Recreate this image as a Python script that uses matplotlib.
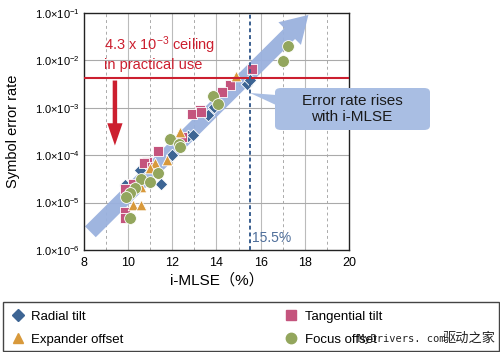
import matplotlib
matplotlib.use("Agg")
import matplotlib.pyplot as plt
from matplotlib.lines import Line2D
from matplotlib.patches import FancyBboxPatch, Polygon, Rectangle

plt.rcParams['font.family'] = ['Liberation Sans', 'Noto Sans CJK SC', 'DejaVu Sans']
plt.rcParams['mathtext.fontset'] = 'custom'
plt.rcParams['mathtext.rm'] = 'Liberation Sans'
plt.rcParams['mathtext.it'] = 'Liberation Sans'

# data
radial_x = [9.85, 10.55, 11.5, 12.0, 12.7, 12.95, 13.6, 13.9, 15.4, 15.5]
radial_y = [2.3e-5, 4.9e-5, 2.5e-5, 1.0e-4, 2.5e-4, 2.7e-4, 7.1e-4, 1.05e-3, 3.2e-3, 3.9e-3]

tang_x = [15.6, 14.6, 14.25, 13.25, 12.9, 13.3, 12.45, 11.35, 10.85, 10.7, 11.1, 10.2, 9.85, 9.85, 9.85]
tang_y = [6.6e-3, 3.0e-3, 2.2e-3, 8.9e-4, 7.4e-4, 8.1e-4, 2.4e-4, 1.2e-4, 7.2e-5, 6.8e-5,
          5.6e-5, 2.5e-5, 1.9e-5, 6.3e-6, 4.7e-6]

exp_x = [14.9, 12.35, 11.75, 11.2, 11.0, 10.6, 10.2, 10.6]
exp_y = [4.7e-3, 3.1e-4, 7.9e-5, 6.8e-5, 5.4e-5, 2.1e-5, 8.9e-6, 8.9e-6]

focus_x = [17.24, 17.0, 13.84, 14.07, 11.9, 12.3, 12.35, 11.35, 10.6, 11.0, 10.3, 10.1, 9.9, 10.1]
focus_y = [2.0e-2, 9.8e-3, 1.8e-3, 1.2e-3, 2.2e-4, 1.7e-4, 1.5e-4, 4.2e-5, 3.2e-5, 2.7e-5,
           2.0e-5, 1.6e-5, 1.3e-5, 4.7e-6]

ceiling = 4.3e-3
mlse_limit = 15.5
yticks = [1e-6, 1e-5, 1e-4, 1e-3, 1e-2, 1e-1]
ytick_labels = [r'$1.0{\times}10^{-6}$', r'$1.0{\times}10^{-5}$', r'$1.0{\times}10^{-4}$',
                r'$1.0{\times}10^{-3}$', r'$1.0{\times}10^{-2}$', r'$1.0{\times}10^{-1}$']

c_radial = '#3D6594'
c_tang = '#C4547D'
c_exp = '#D8993B'
c_focus = '#93A65D'
c_red = '#CC1F2F'
c_arrow = '#9AB1DE'

W, H = 500, 352
def fx(px):
    return px / W
def fy(py):
    return 1 - py / H

fig = plt.figure(figsize=(5, 3.52), dpi=100)
ax = fig.add_axes([fx(84), fy(250), fx(349) - fx(84), fy(13) - fy(250)])
ax.set_xlim(8, 20)
ax.set_yscale('log')
ax.set_ylim(1e-6, 1e-1)

# grid
for v in range(9, 20, 2):
    ax.axvline(v, color='#AAAAAA', lw=0.7, ls=(0, (3, 3)), zorder=0)
for v in range(10, 20, 2):
    ax.axvline(v, color='#BBBBBB', lw=0.8, zorder=0)
for v in yticks[1:-1]:
    ax.axhline(v, color='#AAAAAA', lw=0.8, zorder=0)

# big trend arrow
ax.annotate('', xy=(18.25, 0.1), xytext=(8.2, 2.2e-6),
            arrowprops=dict(arrowstyle='simple,head_length=0.95,head_width=1.15,tail_width=0.55',
                            mutation_scale=20, color=c_arrow, lw=0, alpha=0.95),
            annotation_clip=False, zorder=2)

ms = 58
ax.scatter(radial_x, radial_y, marker='D', s=ms * 0.7, color=c_radial, edgecolor='white', lw=0.6, zorder=3)
ax.scatter(tang_x, tang_y, marker='s', s=ms, color=c_tang, edgecolor='white', lw=0.6, zorder=3)
ax.scatter(exp_x, exp_y, marker='^', s=ms, color=c_exp, edgecolor='white', lw=0.6, zorder=3)
ax.scatter(focus_x, focus_y, marker='o', s=ms * 1.25, color=c_focus, edgecolor='white', lw=0.6, zorder=4)

# ceiling line and arrow
ax.axhline(ceiling, color=c_red, lw=1.5, zorder=5)
ax.annotate('', xy=(9.4, 1.4e-4), xytext=(9.4, ceiling),
            arrowprops=dict(arrowstyle='simple,head_length=0.8,head_width=0.55,tail_width=0.16',
                            mutation_scale=20, color=c_red, lw=0), zorder=5)
ax.text(8.9, 1.4e-2, '4.3 x 10$^{-3}$ ceiling\nin practical use', color=c_red,
        fontsize=10.5, va='center', ha='left', linespacing=1.15, zorder=6)

# i-MLSE limit
ax.axvline(mlse_limit, color='#3A5F8F', lw=1.4, ls=(0, (2, 1.5)), zorder=5)
ax.text(mlse_limit + 0.1, 1.75e-6, '15.5%', color='#4E6E9A', fontsize=10, va='center', ha='left')

ax.set_yticks(yticks)
ax.set_yticklabels(ytick_labels)
ax.minorticks_off()
ax.set_xticks(range(8, 21, 2))
ax.tick_params(axis='y', length=0, labelsize=8, pad=3)
ax.tick_params(axis='x', length=0, labelsize=9, pad=5)
ax.set_xlabel('i-MLSE（%）', fontsize=11, labelpad=3)
ax.set_ylabel('Symbol error rate', fontsize=10.5)
ax.yaxis.set_label_coords(-0.24, 0.5)
for s in ax.spines.values():
    s.set_color('#222222')
    s.set_linewidth(1.0)

# callout box
box = FancyBboxPatch((fx(275), fy(130)), fx(430) - fx(275), fy(88) - fy(130),
                     boxstyle='round,pad=0,rounding_size=0.012', transform=fig.transFigure,
                     fc='#A9BEE3', ec='none', zorder=6)
fig.patches.append(box)
tail = Polygon([(fx(250), fy(93)), (fx(276), fy(95)), (fx(276), fy(105))], closed=True,
               transform=fig.transFigure, fc='#A9BEE3', ec='none', zorder=6)
fig.patches.append(tail)
fig.text(fx(352), fy(109), 'Error rate rises\nwith i-MLSE', ha='center', va='center',
         fontsize=11, color='#1A1A1A', linespacing=1.1, zorder=7)

# legend
fig.patches.append(Rectangle((fx(3), fy(351)), fx(499) - fx(3), fy(302) - fy(351),
                             transform=fig.transFigure, fill=False, ec='#444444', lw=1.0))
handles = [
    Line2D([], [], marker='D', ls='none', color=c_radial, markersize=6, label='Radial tilt'),
    Line2D([], [], marker='^', ls='none', color=c_exp, markersize=7, label='Expander offset'),
    Line2D([], [], marker='s', ls='none', color=c_tang, markersize=7, label='Tangential tilt'),
    Line2D([], [], marker='o', ls='none', color=c_focus, markersize=7.5, label='Focus offset'),
]
fig.legend(handles=handles, ncol=2, loc='upper left', bbox_to_anchor=(fx(9), fy(308)),
           frameon=False, fontsize=9.5, handlelength=1.0, handletextpad=0.5,
           columnspacing=12.2, labelspacing=0.8, borderaxespad=0, borderpad=0.2)

fig.text(fx(358), fy(339), 'MyDrivers. com', fontsize=7.5, color='#222222',
         va='center', ha='left', family='DejaVu Sans Mono', zorder=10)
fig.text(fx(443), fy(338), '驱动之家', fontsize=9.5, color='#222222',
         va='center', ha='left', family='Noto Sans CJK SC', zorder=10)

fig.savefig('out.png', dpi=100)
